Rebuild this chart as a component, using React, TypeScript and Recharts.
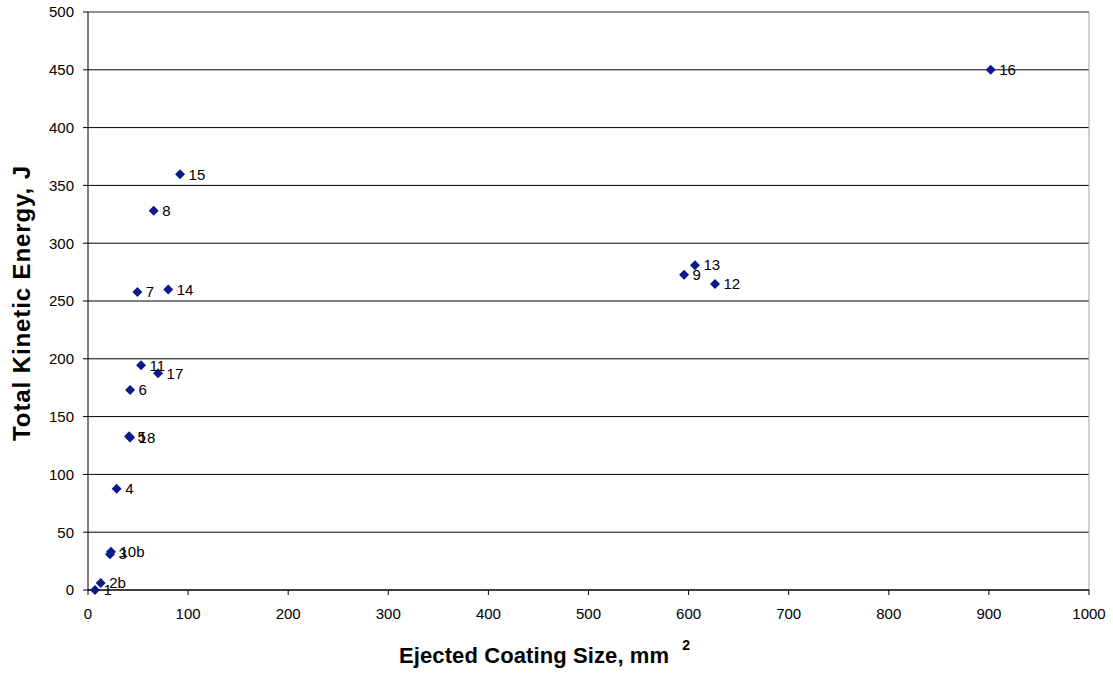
import React from "react";
import {
  ScatterChart,
  Scatter,
  XAxis,
  YAxis,
  CartesianGrid,
  LabelList,
  Label,
  ReferenceLine,
} from "recharts";

// test ids, coating size (mm²) and total kinetic energy (J)
const pointNames = ["1", "2b", "3", "10b", "4", "5", "18", "6", "11", "17", "7", "14", "8", "15", "9", "13", "12", "16"];
const coatingSize = [7, 12.7, 22, 23, 28.6, 41, 42, 42, 53, 70, 49.3, 80.2, 65.6, 92, 595.5, 606.4, 626.4, 901.8];
const kineticEnergy = [0, 6, 31, 33, 87.6, 133, 132, 173, 194.4, 187.5, 257.8, 260, 328, 359.6, 272.8, 281, 264.7, 450];

const xTicks = [0, 100, 200, 300, 400, 500, 600, 700, 800, 900, 1000];
const yTicks = [0, 50, 100, 150, 200, 250, 300, 350, 400, 450, 500];

const data = pointNames.map((name, i) => ({
  name,
  size: coatingSize[i],
  energy: kineticEnergy[i],
}));

const FONT = "'Liberation Sans', Arial, sans-serif";
const MARKER = "#0a1a8c";

const Diamond = (props: any) => {
  const { cx, cy } = props;
  const r = 5;
  return (
    <path
      d={`M${cx},${cy - r}L${cx + r},${cy}L${cx},${cy + r}L${cx - r},${cy}Z`}
      fill={MARKER}
    />
  );
};

const YTitle = (props: any) => {
  const { viewBox } = props;
  const x = viewBox.x + 30;
  const y = viewBox.y + viewBox.height / 2 + 2;
  return (
    <text
      x={x}
      y={y}
      transform={`rotate(-90, ${x}, ${y})`}
      textAnchor="middle"
      fontFamily={FONT}
      fontWeight="bold"
      fontSize={24}
      letterSpacing={0.9}
      fill="#000"
    >
      Total Kinetic Energy, J
    </text>
  );
};

const XTitle = (props: any) => {
  const { viewBox } = props;
  return (
    <text
      x={viewBox.x + 311}
      y={viewBox.y + 73}
      fontFamily={FONT}
      fontWeight="bold"
      fontSize={22}
      letterSpacing={0.1}
      fill="#000"
    >
      Ejected Coating Size, mm
      <tspan dx={13} dy={-13} fontSize={14}>2</tspan>
    </text>
  );
};

export default function App() {
  return (
    <div style={{ position: "absolute", left: 0, top: 0, background: "#fff" }}>
      <ScatterChart
        width={1113}
        height={677}
        margin={{ top: 12, right: 24, left: 0, bottom: 0 }}
      >
        <CartesianGrid vertical={false} stroke="#000" strokeWidth={1} />
        <XAxis
          type="number"
          dataKey="size"
          domain={[0, 1000]}
          ticks={xTicks}
          interval={0}
          height={87}
          axisLine={{ stroke: "#000" }}
          tickLine={{ stroke: "#000" }}
          tickSize={5}
          tickMargin={13}
          tick={{ fill: "#000", fontSize: 15, fontFamily: FONT }}
        >
          <Label content={XTitle} />
        </XAxis>
        <YAxis
          type="number"
          dataKey="energy"
          domain={[0, 500]}
          ticks={yTicks}
          interval={0}
          width={88}
          axisLine={{ stroke: "#000" }}
          tickLine={{ stroke: "#000" }}
          tickSize={5}
          tickMargin={9}
          tick={{ fill: "#000", fontSize: 15, fontFamily: FONT }}
        >
          <Label content={YTitle} />
        </YAxis>
        <ReferenceLine y={500} stroke="#a0a0a0" />
        <ReferenceLine x={1000} stroke="#a0a0a0" />
        <Scatter data={data} shape={Diamond} isAnimationActive={false}>
          <LabelList
            dataKey="name"
            position="right"
            offset={4}
            fill="#000"
            fontSize={15}
            fontFamily={FONT}
          />
        </Scatter>
      </ScatterChart>
    </div>
  );
}
